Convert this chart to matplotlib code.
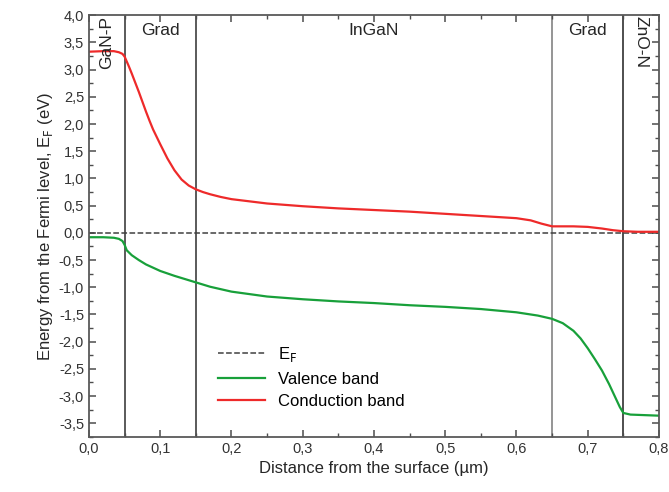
import matplotlib
matplotlib.use("Agg")
import matplotlib.pyplot as plt
from matplotlib.ticker import MultipleLocator, FuncFormatter

plt.rcParams["font.family"] = ["Liberation Sans", "DejaVu Sans"]

# conduction band (eV)
cb_x = [0.0, 0.02, 0.035, 0.042, 0.047, 0.05, 0.053, 0.056, 0.06, 0.065, 0.07, 0.075,
        0.08, 0.085, 0.09, 0.10, 0.11, 0.12, 0.13, 0.14, 0.15, 0.16, 0.17, 0.185, 0.20,
        0.25, 0.30, 0.35, 0.40, 0.45, 0.50, 0.55, 0.60, 0.62, 0.635, 0.65, 0.68, 0.70,
        0.72, 0.735, 0.75, 0.77, 0.80]
cb_y = [3.33, 3.34, 3.34, 3.32, 3.29, 3.24, 3.15, 3.06, 2.93, 2.76, 2.59, 2.41,
        2.23, 2.06, 1.90, 1.63, 1.37, 1.15, 0.98, 0.87, 0.80, 0.75, 0.71, 0.66, 0.62,
        0.54, 0.49, 0.45, 0.42, 0.39, 0.35, 0.31, 0.27, 0.23, 0.17, 0.12, 0.12, 0.11,
        0.08, 0.05, 0.03, 0.02, 0.02]

# valence band (eV)
vb_x = [0.0, 0.02, 0.035, 0.042, 0.047, 0.05, 0.053, 0.06, 0.07, 0.08, 0.10, 0.12, 0.15,
        0.17, 0.20, 0.25, 0.30, 0.35, 0.40, 0.45, 0.50, 0.55, 0.60, 0.63, 0.65, 0.665,
        0.68, 0.69, 0.70, 0.71, 0.72, 0.73, 0.74, 0.745, 0.75, 0.76, 0.78, 0.80]
vb_y = [-0.08, -0.08, -0.09, -0.11, -0.15, -0.22, -0.32, -0.41, -0.50, -0.58, -0.70,
        -0.79, -0.91, -0.99, -1.08, -1.17, -1.22, -1.26, -1.29, -1.33, -1.36, -1.40,
        -1.46, -1.52, -1.58, -1.66, -1.80, -1.94, -2.12, -2.32, -2.53, -2.78, -3.06,
        -3.20, -3.31, -3.34, -3.35, -3.36]

fermi_level = 0.0
boundaries = [0.05, 0.15, 0.65, 0.75]
boundary_colors = ["0.3", "0.3", "0.55", "0.25"]
regions = ["GaN-P", "Grad", "InGaN", "Grad", "ZnO-N"]
region_x = [0.025, 0.1, 0.4, 0.7, 0.775]
region_rot = [90, 0, 0, 0, -90]

fig = plt.figure(figsize=(6.69, 4.92), dpi=100)
ax = fig.add_axes([0.133, 0.112, 0.852, 0.857])

ax.plot([0.0, 0.8], [fermi_level, fermi_level], "--", color="0.25", lw=1.1,
        label="E$_\\mathrm{F}$")
ax.plot(vb_x, vb_y, color="#18a03a", lw=1.6, label="Valence band")
ax.plot(cb_x, cb_y, color="#ee2a2a", lw=1.6, label="Conduction band")

for xb, c in zip(boundaries, boundary_colors):
    ax.axvline(xb, color=c, lw=1.3, zorder=1)

for name, xr, rot in zip(regions, region_x, region_rot):
    if rot == 0:
        ax.text(xr, 3.85, name, ha="center", va="top", fontsize=12.5, color="0.15")
    else:
        ax.text(xr, 3.98, name, ha="center", va="top", rotation=rot, fontsize=12.5, color="0.15")

ax.set_xlim(0.0, 0.8)
ax.set_ylim(-3.75, 4.0)
ax.xaxis.set_major_locator(MultipleLocator(0.1))
ax.xaxis.set_minor_locator(MultipleLocator(0.05))
ax.yaxis.set_major_locator(MultipleLocator(0.5))
ax.yaxis.set_minor_locator(MultipleLocator(0.25))
comma = FuncFormatter(lambda v, p: f"{v:.1f}".replace(".", ",").replace("-0,0", "0,0"))
ax.xaxis.set_major_formatter(comma)
ax.yaxis.set_major_formatter(comma)
ax.tick_params(which="both", direction="in", top=True, right=True, colors="0.3",
               labelcolor="0.2", labelsize=10.5)
ax.tick_params(which="major", length=5, width=1.1)
ax.tick_params(which="minor", length=3, width=1.0)
for s in ax.spines.values():
    s.set_color("0.35")
    s.set_linewidth(1.3)

ax.set_xlabel("Distance from the surface (\u00b5m)", fontsize=12, color="0.15", labelpad=4)
ax.set_ylabel("Energy from the Fermi level, E$_\\mathrm{F}$ (eV)", fontsize=12,
              color="0.15", labelpad=3)

ax.legend(loc="lower left", bbox_to_anchor=(0.2, 0.03), frameon=False, fontsize=12,
          handlelength=2.8, labelspacing=0.45)

fig.savefig("out.png", dpi=100)
